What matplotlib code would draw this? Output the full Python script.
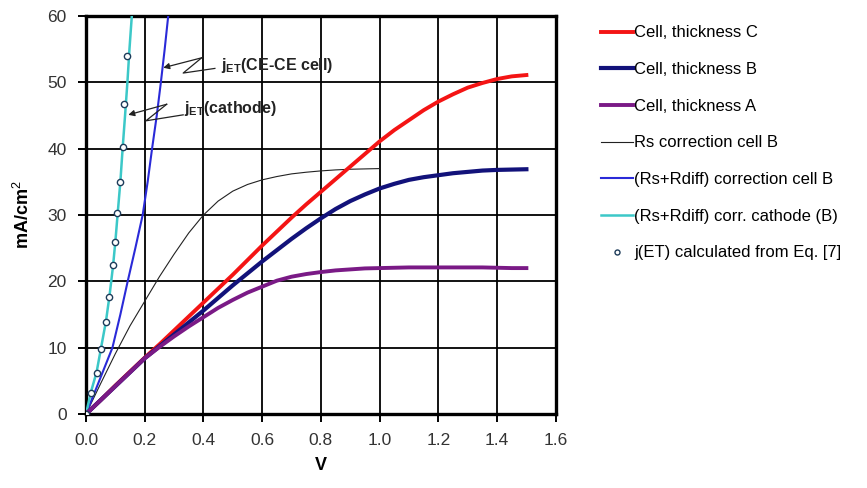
import matplotlib
matplotlib.use("Agg")
import matplotlib.pyplot as plt

plt.rcParams['font.family'] = ['Liberation Sans', 'DejaVu Sans']
plt.rcParams['mathtext.fontset'] = 'custom'
plt.rcParams['mathtext.rm'] = 'Liberation Sans'
plt.rcParams['mathtext.bf'] = 'Liberation Sans:bold'

# Measured cell curves (V, mA/cm2), 0.05 V steps
v_cell = [0.0, 0.05, 0.1, 0.15, 0.2, 0.25, 0.3, 0.35, 0.4, 0.45, 0.5, 0.55, 0.6, 0.65, 0.7, 0.75,
          0.8, 0.85, 0.9, 0.95, 1.0, 1.05, 1.1, 1.15, 1.2, 1.25, 1.3, 1.35, 1.4, 1.45, 1.5]
j_cell_c = [0.0, 2.1, 4.3, 6.4, 8.5, 10.5, 12.6, 14.7, 16.8, 18.9, 21.0, 23.2, 25.4, 27.5, 29.6, 31.6,
            33.5, 35.4, 37.3, 39.2, 41.1, 42.8, 44.3, 45.8, 47.1, 48.2, 49.2, 49.9, 50.5, 50.9, 51.1]
j_cell_b = [0.0, 2.1, 4.2, 6.3, 8.4, 10.2, 12.0, 13.8, 15.6, 17.5, 19.4, 21.2, 23.0, 24.7, 26.4, 28.0,
            29.5, 30.9, 32.1, 33.1, 34.0, 34.7, 35.3, 35.7, 36.0, 36.3, 36.5, 36.7, 36.8, 36.85, 36.9]
j_cell_a = [0.0, 2.1, 4.2, 6.3, 8.4, 10.1, 11.7, 13.2, 14.6, 16.0, 17.2, 18.3, 19.2, 20.1, 20.7, 21.1,
            21.4, 21.65, 21.8, 21.95, 22.0, 22.05, 22.1, 22.1, 22.1, 22.1, 22.1, 22.1, 22.05, 22.0, 22.0]

# Series-resistance corrected curve, cell B
v_rs = [0.0, 0.05, 0.1, 0.15, 0.2, 0.25, 0.3, 0.35, 0.4, 0.45, 0.5, 0.55, 0.6, 0.65, 0.7, 0.75,
        0.8, 0.85, 0.9, 0.95, 1.0]
j_rs = [0.0, 4.6, 9.1, 13.3, 17.0, 20.7, 24.1, 27.3, 30.0, 32.1, 33.6, 34.6, 35.3, 35.8, 36.2, 36.45,
        36.65, 36.8, 36.9, 36.95, 37.0]

# (Rs+Rdiff) corrected curve, cell B
v_rsd_cell = [0.0, 0.045, 0.09, 0.117, 0.142, 0.168, 0.193, 0.21, 0.225, 0.241, 0.255, 0.268, 0.28]
j_rsd_cell = [0.0, 5.0, 10.0, 15.0, 20.0, 25.0, 30.0, 35.0, 40.0, 45.0, 50.0, 55.0, 60.0]

# (Rs+Rdiff) corrected curve, cathode (B)
v_rsd_cat = [0.0, 0.016, 0.036, 0.051, 0.068, 0.08, 0.092, 0.1, 0.108, 0.117, 0.125, 0.133, 0.141, 0.148, 0.156]
j_rsd_cat = [0.0, 3.2, 6.3, 9.9, 14.0, 17.8, 22.3, 26.0, 30.3, 35.0, 40.2, 45.0, 50.0, 55.0, 60.0]

# j(ET) from Eq. [7]
v_et = [0.0, 0.016, 0.036, 0.051, 0.068, 0.079, 0.093, 0.099, 0.107, 0.116, 0.125, 0.130, 0.141]
j_et = [0.0, 3.2, 6.2, 9.8, 13.9, 17.7, 22.4, 25.9, 30.3, 35.0, 40.3, 46.7, 54.0]

x_ticks = [0.0, 0.2, 0.4, 0.6, 0.8, 1.0, 1.2, 1.4, 1.6]
y_ticks = [0, 10, 20, 30, 40, 50, 60]

fig = plt.figure(figsize=(8.67, 4.88), dpi=100)
ax = fig.add_axes([0.0992, 0.1516, 0.5418, 0.8156])

c_red = '#F41414'
c_navy = '#12127A'
c_purple = '#7A1A86'
c_blue = '#2A2AD8'
c_cyan = '#3CC8C8'

ax.plot(v_cell, j_cell_c, color=c_red, lw=2.8, label='Cell, thickness C', zorder=4)
ax.plot(v_cell, j_cell_b, color=c_navy, lw=3.0, label='Cell, thickness B', zorder=4)
ax.plot(v_cell, j_cell_a, color=c_purple, lw=2.8, label='Cell, thickness A', zorder=4)
ax.plot(v_rs, j_rs, color='#222222', lw=0.8, label='Rs correction cell B', zorder=3)
ax.plot(v_rsd_cell, j_rsd_cell, color=c_blue, lw=1.5, label='(Rs+Rdiff) correction cell B', zorder=3)
ax.plot(v_rsd_cat, j_rsd_cat, color=c_cyan, lw=1.8, label='(Rs+Rdiff) corr. cathode (B)', zorder=3)
ax.plot(v_et, j_et, linestyle='none', marker='o', markersize=4.5, markerfacecolor='white',
        markeredgecolor='#1E3C5A', markeredgewidth=1.0,
        label='j(ET) calculated from Eq. [7]', zorder=5)

ax.set_xlim(0, 1.6)
ax.set_ylim(0, 60)
ax.set_xticks(x_ticks)
ax.set_xticklabels([f'{t:.1f}' for t in x_ticks])
ax.set_yticks(y_ticks)
ax.grid(True, color='black', lw=1.3)
ax.set_axisbelow(True)
for s in ax.spines.values():
    s.set_linewidth(2.4)
ax.tick_params(direction='out', length=6, width=1.4, color='black',
               labelsize=12.5, labelcolor='#333333', pad=8)

ax.set_xlabel('V', fontsize=13, fontweight='bold', labelpad=6)
ax.set_ylabel('mA/cm$^2$', fontsize=13, fontweight='bold', labelpad=10)

# Callouts with zig-zag leader lines
def callout(text, tip, path, text_xy):
    xs = [p[0] for p in path]
    ys = [p[1] for p in path]
    ax.plot(xs, ys, color='#222222', lw=0.9, zorder=6, clip_on=False)
    ax.annotate('', xy=tip, xytext=path[0],
                arrowprops=dict(arrowstyle='-|>', color='#222222', lw=0.9,
                                mutation_scale=9, shrinkA=0, shrinkB=0), zorder=6)
    ax.text(text_xy[0], text_xy[1], text, fontsize=11.5, fontweight='bold',
            ha='left', va='center', color='#222222', zorder=7)

callout(r'$\mathbf{j}_{\mathbf{ET}}$(CE-CE cell)', (0.263, 52.2),
        [(0.394, 53.7), (0.331, 51.4), (0.439, 52.1)], (0.46, 52.6))
callout(r'$\mathbf{j}_{\mathbf{ET}}$(cathode)', (0.144, 45.1),
        [(0.275, 46.7), (0.204, 44.2), (0.331, 45.1)], (0.335, 46.1))

ax.legend(loc='upper left', bbox_to_anchor=(0.684, 0.965), bbox_transform=fig.transFigure,
          frameon=False, fontsize=12, handlelength=1.9, handletextpad=0.08,
          labelspacing=1.3, borderpad=0, markerscale=0.8)

fig.savefig('out.png', dpi=100, facecolor='white')
